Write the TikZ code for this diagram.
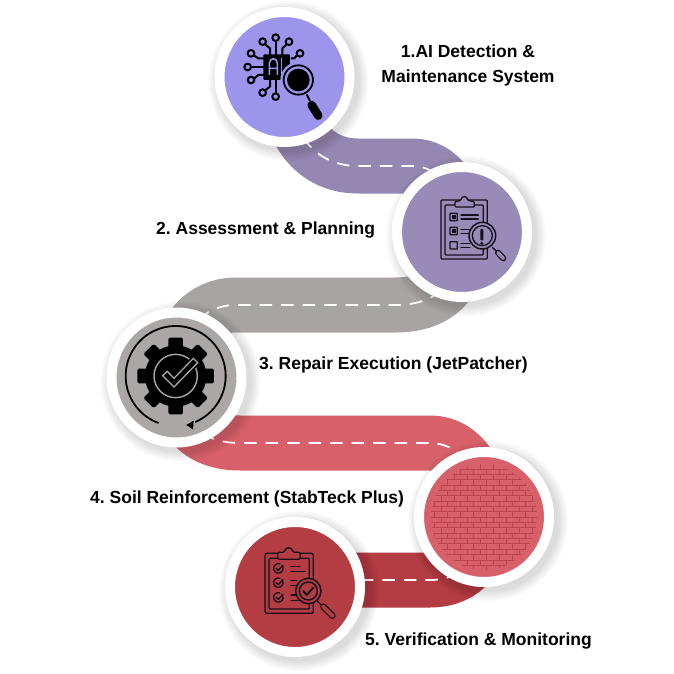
\documentclass[tikz,border=0pt]{standalone}
\usepackage{fontspec}
\setmainfont{Liberation Sans}
\definecolor{violetdisc}{RGB}{157, 148, 236}
\definecolor{lilacdisc}{RGB}{153, 139, 184}
\definecolor{lilacroad}{RGB}{148, 136, 179}
\definecolor{greydisc}{RGB}{171, 167, 166}
\definecolor{greyroad}{RGB}{169, 164, 164}
\definecolor{rosedisc}{RGB}{216, 96, 106}
\definecolor{brickline}{RGB}{186, 68, 80}
\definecolor{reddisc}{RGB}{180, 60, 67}
\definecolor{inkline}{RGB}{22, 16, 28}
\usetikzlibrary{calc}
\pgfdeclarelayer{roads}
\pgfdeclarelayer{shades}
\pgfsetlayers{roads,shades,main}
\tikzset{
    stopdisc/.style={circle, draw=white, line width=10pt, minimum size=130pt, inner sep=0pt, outer sep=0pt},
    road/.style={line width=55pt, line cap=butt},
    laneline/.style={draw=white, line width=1.8pt, dash pattern=on 12.5pt off 9pt},
    steplabel/.style={font=\bfseries\fontsize{17.5}{25}\selectfont, inner sep=0pt, text=black},
    icon/.style={line width=1.3pt, draw=inkline, line cap=round, line join=round},
}
\frenchspacing
\begin{document}
\begin{tikzpicture}[x=1pt, y=-1pt]
    \useasboundingbox (0,0) rectangle (674,674);

    \node[stopdisc, fill=violetdisc] (detect) at (284.5,77) {};
    \node[stopdisc, fill=lilacdisc] (assess) at (462,232) {};
    \node[stopdisc, fill=greydisc] (repair) at (176.5,377.5) {};
    \node[stopdisc, fill=rosedisc] (soil) at (484,517) {};
    \node[stopdisc, fill=reddisc] (verify) at (295,587) {};

    \node[steplabel, align=center] (detecttext) at (468,65.5) {1.AI Detection \&\\Maintenance System};
    \node[steplabel, anchor=west] (assesstext) at (156,230) {2. Assessment \& Planning};
    \node[steplabel, anchor=west] (repairtext) at (259,365) {3. Repair Execution (JetPatcher)};
    \node[steplabel, anchor=west] (soiltext) at (90,499) {4. Soil Reinforcement (StabTeck Plus)};
    \node[steplabel, anchor=west] (verifytext) at (365,641) {5. Verification \& Monitoring};

    \begin{pgfonlayer}{roads}
        \fill[white] (0,0) rectangle (674,674);
        \draw[road, lilacroad, postaction={laneline}] (detect.center) .. controls (290,140) and (320,166) .. (358,166)
            -- (412,166) .. controls (440,166) and (457,192) .. (assess.center);
        \draw[road, greyroad, postaction={laneline}] (assess.center) .. controls (462,280) and (440,305) .. (395,305)
            -- (235,305) .. controls (205,305) and (178,330) .. (repair.center);
        \draw[road, rosedisc, postaction={laneline}] (repair.center) .. controls (178,420) and (200,443) .. (240,443)
            -- (430,443) .. controls (462,443) and (482,475) .. (soil.center);
        \draw[road, reddisc, postaction={laneline}] (soil.center) .. controls (484,555) and (465,580) .. (430,580)
            -- (310,580) -- (verify.center);
    \end{pgfonlayer}

    % soft shadows
    \begin{pgfonlayer}{shades}
        \foreach \stop in {detect,assess,repair,soil,verify}
            \foreach \rad in {71,72.5,...,80}
                \fill[black, opacity=.018] ($(\stop)+(4,4)$) circle (\rad);
    \end{pgfonlayer}

    % chip and magnifier
    \begin{scope}[shift={(235,25)}, x=.3333pt, y=-.3333pt]
        \foreach \ax/\ay/\bx/\by/\cx/\cy in {122/50/122/70/122/90, 90/58/105/70/105/90, 155/58/142/70/142/90,
            58/92/70/100/88/100, 185/92/178/100/168/100, 50/126/65/126/88/126, 58/160/70/150/88/150,
            90/196/105/185/105/165, 122/203/122/185/122/165}
            \draw[black, line width=2pt, line join=round] (\ax,\ay) -- (\bx,\by) -- (\cx,\cy);
        \foreach \ax/\ay in {122/38,83/50,162/50,48/85,195/85,38/126,48/165,83/203,122/215}
            \draw[black, line width=2pt] (\ax,\ay) circle (10);
        \fill[black, rounded corners=1pt] (85,88) rectangle (165,165);
        \draw[violetdisc, line width=1.6pt] (103,150) -- (103,115) .. controls (103,97) and (127,97) .. (127,115) -- (127,150)
            (103,130) -- (127,130);
        \draw[violetdisc, line width=1.6pt] (140,100) -- (140,150);
        \fill[violetdisc] (190,165) circle (54);
        \draw[black, line width=1.8pt] (190,165) circle (44);
        \fill[black] (190,165) circle (34);
        \draw[black, line width=2pt] (215,208) -- (225,228);
        \draw[black, line width=8.5pt, line cap=round] (230,240) -- (250,272);
    \end{scope}

    % clipboard with warning
    \begin{scope}[shift={(425,185)}, x=.3333pt, y=-.3333pt]
        \draw[icon, rounded corners=1pt] (48,45) rectangle (187,222);
        \draw[icon, rounded corners=1pt] (60,60) rectangle (175,210);
        \draw[icon, fill=lilacdisc, rounded corners=1pt] (90,66) -- (90,50) -- (108,46) .. controls (110,32) and (126,32) .. (128,46)
            -- (148,50) -- (148,66) -- cycle;
        \foreach \boxy in {85,127,170}
            \draw[icon, rounded corners=.5pt] (75,\boxy) rectangle ++(22,22);
        \foreach \boxy in {85,127}
            \fill[inkline] (80,\boxy+5) rectangle ++(12,12);
        \foreach \liney/\lineend in {90/160,102/160,133/135,146/135,175/135,187/135}
            \draw[icon] (108,\liney) -- (\lineend,\liney);
        \draw[icon, line width=1.5pt, fill=lilacdisc] (172,152) circle (40);
        \draw[icon] (172,152) circle (30);
        \fill[inkline, rounded corners=.8pt] (166,132) rectangle (175,166);
        \fill[inkline] (170.5,175) circle (5);
        \draw[icon] (203,188) -- (214,198);
        \draw[inkline, line width=6pt, line cap=round] (219,203) -- (235,220);
        \draw[lilacdisc, line width=3.6pt, line cap=round] (219,203) -- (235,220);
    \end{scope}

    % gear with check
    \begin{scope}[shift={(125,325)}, x=.3333pt, y=-.3333pt]
        \draw[black, line width=1.8pt] plot[domain=110:427, samples=80] ({152+150*cos(\x)},{153+150*sin(\x)});
        \fill[black] (184,300) -- (206,287) -- (204,313) -- cycle;
        \fill[black] (152,153) circle (92);
        \foreach \ang in {0,45,...,315}
            \fill[black, rounded corners=1.5pt, rotate around={\ang:(152,153)}] (130,38) rectangle (174,80);
        \draw[greydisc, line width=1.4pt] (152,153) circle (65);
        \draw[black, line width=4.5pt, line join=miter] (113,152) -- (127,139) -- (147,160) -- (205,100) -- (218,113) -- (147,186) -- cycle;
        \draw[greydisc, line width=1.3pt, fill=black, line join=miter] (113,152) -- (127,139) -- (147,160) -- (205,100) -- (218,113) -- (147,186) -- cycle;
    \end{scope}

    % brick wall
    \begin{scope}
        \clip (soil) circle (53);
        \foreach \row in {0,...,20} {
            \pgfmathsetmacro{\rowy}{463.5+5.35*\row}
            \pgfmathsetmacro{\rowx}{428+6.5*mod(\row,2)}
            \draw[brickline, line width=.6pt] (424,\rowy) -- (544,\rowy);
            \foreach \col in {0,...,9}
                \draw[brickline, line width=.5pt] (\rowx+13*\col,\rowy) -- ++(0,5.35);
        }
    \end{scope}

    % clipboard with checks
    \begin{scope}[shift={(255,540)}, x=.3333pt, y=-.3333pt]
        \draw[icon, rounded corners=2pt] (30,40) rectangle (175,220);
        \draw[icon, rounded corners=1pt] (42,55) rectangle (163,207);
        \draw[icon, fill=reddisc, rounded corners=1.5pt] (68,58) -- (68,37) -- (88,37) .. controls (92,20) and (110,20) .. (114,37)
            -- (136,37) -- (136,58) -- cycle;
        \foreach \checky in {85,128,172} {
            \draw[icon] plot[domain=-40:290, samples=30] ({70+14*cos(\x)},{\checky+14*sin(\x)});
            \draw[icon] (63,\checky) -- (70,\checky+6) -- (84,\checky-9);
        }
        \foreach \liney/\lineend in {80/135,95/150,122/125,137/125,165/130,182/130}
            \draw[icon] (108,\liney) -- (\lineend,\liney);
        \draw[icon, line width=1.5pt, fill=reddisc] (160,153) circle (38);
        \draw[icon, line width=1.5pt] (160,153) circle (27);
        \draw[icon, line width=2pt] (145,153) -- (155,165) -- (175,143);
        \draw[icon] (187,183) -- (198,194);
        \draw[inkline, line width=6.5pt, line cap=round] (205,200) -- (232,227);
        \draw[reddisc, line width=4pt, line cap=round] (205,200) -- (232,227);
    \end{scope}
\end{tikzpicture}
\end{document}
